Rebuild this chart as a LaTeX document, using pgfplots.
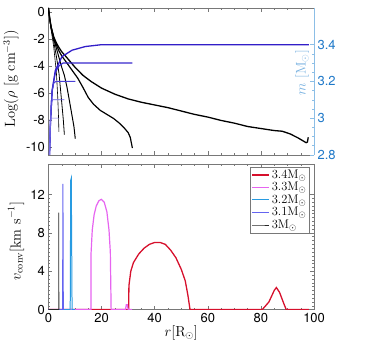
\documentclass[border=0pt]{standalone}
\usepackage{pgfplots}
\pgfplotsset{compat=1.18}
\usepackage{fontspec}
\newfontfamily\heros{TeX Gyre Heros}

\definecolor{maxis}{RGB}{30,120,200}
\definecolor{maxisl}{RGB}{140,190,230}
\definecolor{boxgray}{RGB}{120,120,120}
% velocity curves
\definecolor{cA}{RGB}{214,16,44}
\definecolor{cB}{RGB}{230,100,240}
\definecolor{cC}{RGB}{40,155,225}
\definecolor{cD}{RGB}{100,100,240}
\definecolor{cE}{RGB}{40,40,40}
% mass curves
\definecolor{mA}{RGB}{50,30,200}
\definecolor{mB}{RGB}{55,40,205}
\definecolor{mC}{RGB}{75,65,215}
\definecolor{mD}{RGB}{100,90,225}
\definecolor{mE}{RGB}{130,120,230}

\pgfplotsset{
  base/.style={
    scale only axis, width=266pt, xmin=0, xmax=100,
    tick label style={font=\fontsize{13}{15}\heros},
    /pgf/number format/assume math mode=true,
    label style={font=\fontsize{14.5}{16}\selectfont},
    axis line style={boxgray}, every tick/.style={boxgray},
    major tick length=4pt, minor tick length=2pt,
  },
}

\begin{document}
\begin{tikzpicture}
% ---------- top panel: density ----------
\begin{axis}[base, at={(0,155pt)}, anchor=south west, height=147pt,
  ymin=-10.6, ymax=0.3, ytick={-10,-8,...,0},
  xtick={0,20,...,100}, xticklabels={}, minor x tick num=3,
  axis y line*=left,
  ylabel={Log($\rho$ [g cm$^{-3}$])},
  ylabel style={at={(axis description cs:-0.141,0.517)}, anchor=center},
]
\addplot[black, line width=1.3pt] coordinates {
  (0,0.3) (0.5,-0.5) (1,-1.1) (2,-1.85) (3,-2.3) (4,-2.65) (5,-2.95) (7,-3.4)
  (10,-4.1) (13,-4.7) (16,-5.15) (20,-5.65) (25,-6.1) (30,-6.45) (35,-6.7)
  (40,-6.9) (45,-7.1) (50,-7.35) (55,-7.6) (60,-7.8) (65,-8.05) (70,-8.25)
  (75,-8.5) (80,-8.65) (85,-8.8) (88,-8.85) (91,-9.05) (94,-9.35) (97,-9.7)
  (97.5,-9.65) (97.8,-9.3)};
\addplot[black, line width=1.2pt] coordinates {
  (0,0.3) (0.5,-0.5) (1,-1.1) (2,-1.9) (3,-2.45) (4,-2.9) (5,-3.25) (7,-3.8)
  (9,-4.35) (11,-4.9) (13,-5.6) (15,-6.35) (17,-6.85) (19.5,-7.3) (22,-7.6)
  (24.5,-7.9) (27,-8.3) (28.5,-8.6) (30,-8.95) (30.8,-9.3) (31.3,-9.8) (31.6,-10.1)};
\addplot[black, line width=1.0pt] coordinates {
  (0,0.3) (0.5,-0.5) (1,-1.15) (2,-2.0) (3,-2.7) (4,-3.4) (5,-4.1) (6,-4.7)
  (7,-5.6) (8,-6.7) (8.8,-7.6) (9.6,-8.5) (10.1,-9.4)};
\addplot[black, line width=0.8pt] coordinates {
  (0,0.3) (0.5,-0.55) (1,-1.2) (2,-2.2) (3,-3.3) (4,-4.6) (5,-6.7) (5.6,-8.0) (6,-9.1)};
\addplot[black, line width=0.6pt] coordinates {
  (0,0.3) (0.5,-0.6) (1,-1.3) (2,-2.6) (3,-4.5) (3.5,-6.3) (3.8,-7.8) (3.95,-8.9)};
\end{axis}
% ---------- top panel: enclosed mass ----------
\begin{axis}[base, at={(0,155pt)}, anchor=south west, height=147pt,
  axis x line=none, axis y line*=right,
  ymin=2.8, ymax=3.6, ytick={2.8,3,3.2,3.4}, minor y tick num=3,
  y axis line style={maxisl}, ytick style={maxisl},
  yticklabel style={maxis},
]
\addplot[mA, line width=1.3pt] coordinates {
  (0.1,2.5) (0.4,2.8) (0.75,2.97) (1.4,3.15) (2.6,3.26) (5.1,3.335) (8.9,3.37)
  (13.9,3.39) (20,3.4) (98,3.4)};
\addplot[mB, line width=1.2pt] coordinates {
  (0.1,2.5) (0.4,2.8) (0.75,2.97) (1.4,3.15) (2.6,3.25) (4,3.285) (5.5,3.3) (31.6,3.3)};
\addplot[mC, line width=1.0pt] coordinates {
  (0.1,2.5) (0.4,2.8) (0.75,2.98) (1.3,3.14) (2.0,3.19) (2.8,3.2) (10.1,3.2)};
\addplot[mD, line width=0.8pt] coordinates {
  (0.1,2.5) (0.4,2.8) (0.75,3.0) (1.1,3.08) (1.6,3.1) (6,3.1)};
\addplot[mE, line width=0.6pt] coordinates {
  (0.1,2.5) (0.4,2.8) (0.7,2.97) (1.1,3.0) (4.1,3.0)};
\node[rotate=90, text=maxisl!80!maxis, font=\fontsize{14}{16}\selectfont]
  at (axis description cs:0.955,0.56) {$m$ [M$_\odot$]};
\end{axis}
% ---------- bottom panel: convective velocity ----------
\begin{axis}[base, at={(0,0)}, anchor=south west, height=146pt,
  ymin=0, ymax=15.2, ytick={0,4,8,12}, minor y tick num=9,
  xtick={0,20,...,100}, minor x tick num=3,
  xlabel={$r[\mathrm{R}_\odot]$},
  xlabel style={at={(axis description cs:0.5,-0.158)}, anchor=center},
  ylabel={$v_{\mathrm{conv}}[\mathrm{km\ s}^{-1}]$},
  ylabel style={at={(axis description cs:-0.122,0.47)}, anchor=center},
  legend style={at={(axis description cs:0.983,0.98)}, anchor=north east,
    draw=boxgray, font=\fontsize{12.5}{14}\selectfont, row sep=-1.5pt,
    inner sep=1pt},
  legend cell align=left,
]
\addplot[cA, line width=1.3pt] coordinates {
  (0,0) (30.2,0) (30.3,2.5) (31,4) (32,4.9) (34,5.8) (36,6.4) (38,6.8) (40,7.0)
  (42,7.0) (44,6.8) (46,6.2) (48,5.4) (50,4.2) (51.5,3.0) (52.5,1.5) (53.3,0)
  (80.5,0) (83,0.8) (85,2.0) (85.8,2.3) (87,1.8) (88.5,0.7) (89.5,0) (98,0)};
\addlegendentry{3.4M$_\odot$}
\addplot[cB, line width=1.2pt] coordinates {
  (0,0) (16,0) (16.05,5.9) (16.5,8.3) (17.2,9.9) (18,10.8) (19,11.35) (19.9,11.5)
  (21,11.2) (22,10.2) (22.8,8.3) (23.3,6) (23.6,0) (29,0) (29.3,0.5) (29.7,0.5)
  (30,0) (31.5,0)};
\addlegendentry{3.3M$_\odot$}
\addplot[cC, line width=1.0pt] coordinates {
  (0,0) (8.2,0) (8.4,13.5) (8.6,13.7) (8.9,0) (10,0)};
\addlegendentry{3.2M$_\odot$}
\addplot[cD, line width=1.0pt] coordinates {
  (0,0) (5.35,0) (5.45,13.1) (5.6,0) (6,0)};
\addlegendentry{3.1M$_\odot$}
\addplot[cE, line width=0.7pt] coordinates {
  (0,0) (3.85,0) (3.9,10.1) (3.95,0) (4.1,0)};
\addlegendentry{3M$_\odot$}
\end{axis}
\path (-48pt,-38pt) rectangle (329pt,310pt);
\end{tikzpicture}
\end{document}
